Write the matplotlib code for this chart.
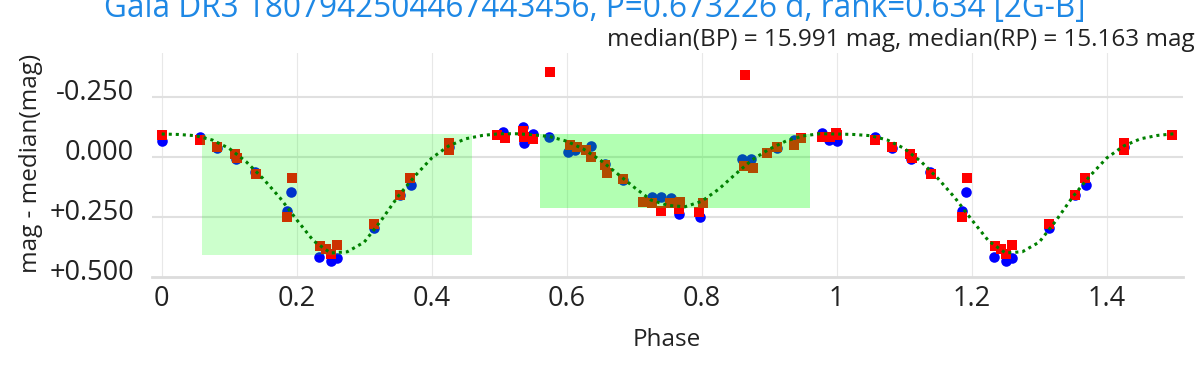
import numpy as np
import matplotlib
matplotlib.use('Agg')
import matplotlib.pyplot as plt
from matplotlib.patches import Rectangle
from matplotlib.transforms import ScaledTranslation

plt.rcParams['font.family'] = ['Open Sans', 'DejaVu Sans']

# ======================================================================================================================
# data (phase 0..1, folded copy drawn for 1..1.5)

title = 'Gaia DR3 1807942504467443456, P=0.673226 d, rank=0.634 [2G-B]'
subtitle = 'median(BP) = 15.991 mag, median(RP) = 15.163 mag'

bp_phase = [0.001, 0.057, 0.082, 0.110, 0.138, 0.185, 0.192, 0.2335, 0.251, 0.260, 0.3145, 0.353, 0.369,
            0.425, 0.505, 0.535, 0.536, 0.550, 0.574, 0.602, 0.612, 0.636, 0.657, 0.684, 0.726, 0.740,
            0.754, 0.767, 0.797, 0.860, 0.873, 0.911, 0.936, 0.978, 0.988]
bp_mag = [-0.065, -0.081, -0.035, 0.010, 0.065, 0.225, 0.148, 0.417, 0.433, 0.419, 0.298, 0.160, 0.118,
          -0.040, -0.104, -0.125, -0.056, -0.097, -0.081, -0.021, -0.030, -0.046, 0.030, 0.095, 0.167, 0.167,
          0.173, 0.236, 0.250, 0.007, 0.010, -0.035, -0.070, -0.100, -0.070]

rp_phase = [0.001, 0.057, 0.082, 0.108, 0.111, 0.140, 0.185, 0.193, 0.2345, 0.244, 0.251, 0.259, 0.3145,
            0.353, 0.368, 0.425, 0.425, 0.496, 0.509, 0.535, 0.536, 0.550, 0.575, 0.605, 0.615, 0.629,
            0.636, 0.657, 0.659, 0.684, 0.7135, 0.726, 0.739, 0.753, 0.768, 0.767, 0.796, 0.802, 0.862,
            0.864, 0.876, 0.897, 0.911, 0.937, 0.947, 0.978, 0.990, 0.999]
rp_mag = [-0.090, -0.070, -0.042, -0.010, 0.005, 0.072, 0.250, 0.090, 0.371, 0.382, 0.403, 0.368, 0.280,
          0.157, 0.090, -0.056, -0.028, -0.090, -0.077, -0.108, -0.083, -0.076, -0.354, -0.049, -0.042, -0.028,
          0.000, 0.035, 0.069, 0.093, 0.1875, 0.194, 0.226, 0.194, 0.1875, 0.215, 0.229, 0.194, 0.039,
          -0.340, 0.048, -0.017, -0.042, -0.049, -0.077, -0.083, -0.083, -0.100]

model_phase = [0.000, 0.025, 0.050, 0.075, 0.100, 0.125, 0.150, 0.175, 0.200, 0.225, 0.250, 0.275, 0.300,
               0.325, 0.350, 0.375, 0.400, 0.425, 0.450, 0.475, 0.500, 0.525, 0.550, 0.575, 0.600, 0.625,
               0.650, 0.675, 0.700, 0.725, 0.750, 0.775, 0.800, 0.825, 0.850, 0.875, 0.900, 0.925, 0.950,
               0.975]
model_mag = [-0.095, -0.093, -0.088, -0.070, -0.035, 0.020, 0.090, 0.170, 0.262, 0.350, 0.400, 0.395, 0.355,
             0.265, 0.165, 0.080, 0.005, -0.045, -0.075, -0.089, -0.096, -0.096, -0.092, -0.084, -0.065, -0.032,
             0.014, 0.070, 0.127, 0.180, 0.202, 0.208, 0.185, 0.135, 0.072, 0.012, -0.032, -0.066, -0.087,
             -0.096]

# eclipse windows: (phase0, phase1, top, bottom, alpha)
windows = [(0.059, 0.459, -0.095, 0.410, 0.2),
           (0.560, 0.960, -0.095, 0.211, 0.3)]

y_ticks = [-0.25, 0.0, 0.25, 0.5]
y_ticklabels = ['-0.250', '0.000', '+0.250', '+0.500']
x_ticks = [0, 0.2, 0.4, 0.6, 0.8, 1, 1.2, 1.4]
x_ticklabels = ['0', '0.2', '0.4', '0.6', '0.8', '1', '1.2', '1.4']


# ======================================================================================================================
def fold(phase, mag, upto=1.5):
    """ Append a copy shifted by one period for phases below 'upto' - 1.
    """
    p = np.array(phase)
    m = np.array(mag)
    k = p < upto - 1.
    return np.concatenate([p, p[k] + 1.]), np.concatenate([m, m[k]])


W, H = 1196, 368
fig = plt.figure(figsize=(W / 100, H / 100), dpi=100)
ax = fig.add_axes([152 / W, 1 - 277 / H, (1183 - 152) / W, (277 - 53) / H])

bx, by = fold(bp_phase, bp_mag)
rx, ry = fold(rp_phase, rp_mag)
mx, my = fold(model_phase + [1.0], model_mag + [model_mag[0]], upto=1.501)
order = np.argsort(mx, kind='stable')
mx, my = mx[order], my[order]

ax.scatter(bx, by, s=7.6 ** 2, marker='o', color='blue', linewidths=0, zorder=3)
ax.scatter(rx, ry, s=7.0 ** 2, marker='s', color='red', linewidths=0, zorder=4)

for p0, p1, top, bot, a in windows:
    ax.add_patch(Rectangle((p0, top), p1 - p0, bot - top, facecolor=(0, 1, 0, a),
                           edgecolor='none', zorder=5))

ax.plot(mx, my, color='green', lw=2.2, linestyle=(0, (1, 1.3)), zorder=6)

ax.set_xlim(-0.0144, 1.513)
ax.set_ylim(0.5, -0.432)
ax.set_xticks(x_ticks, x_ticklabels)
ax.set_yticks(y_ticks, y_ticklabels)
ax.tick_params(length=0, labelsize=19.5, colors='#222222')
ax.tick_params(axis='y', pad=13)
ax.tick_params(axis='x', pad=6)
# y labels sit a little above their grid lines in the reference
up = ScaledTranslation(0, 7 / 100, fig.dpi_scale_trans)
for lab in ax.get_yticklabels():
    lab.set_transform(lab.get_transform() + up)

for v in x_ticks:
    ax.axvline(v, color='#e8e8e8', lw=0.8, zorder=0)
for v in y_ticks[:-1]:
    ax.axhline(v, color='#e0e0e0', lw=1.5, zorder=0)
for s in ['top', 'right', 'left']:
    ax.spines[s].set_visible(False)
ax.spines['bottom'].set_color('#dcdcdc')
ax.spines['bottom'].set_linewidth(2)

fig.text(595 / W, 1 - 17 / H, title, color='#1E88E5', fontsize=22.7, ha='center', va='baseline')
fig.text(1195 / W, 1 - 46 / H, subtitle, color='#222222', fontsize=17.5, ha='right', va='baseline')
fig.text(667 / W, 1 - 340 / H, 'Phase', color='#222222', fontsize=17.5, ha='center', va='center')
fig.text(31 / W, 1 - 163 / H, 'mag - median(mag)', color='#222222', fontsize=17.5, ha='center', va='center',
         rotation=90)

fig.savefig('out.png', dpi=100)
